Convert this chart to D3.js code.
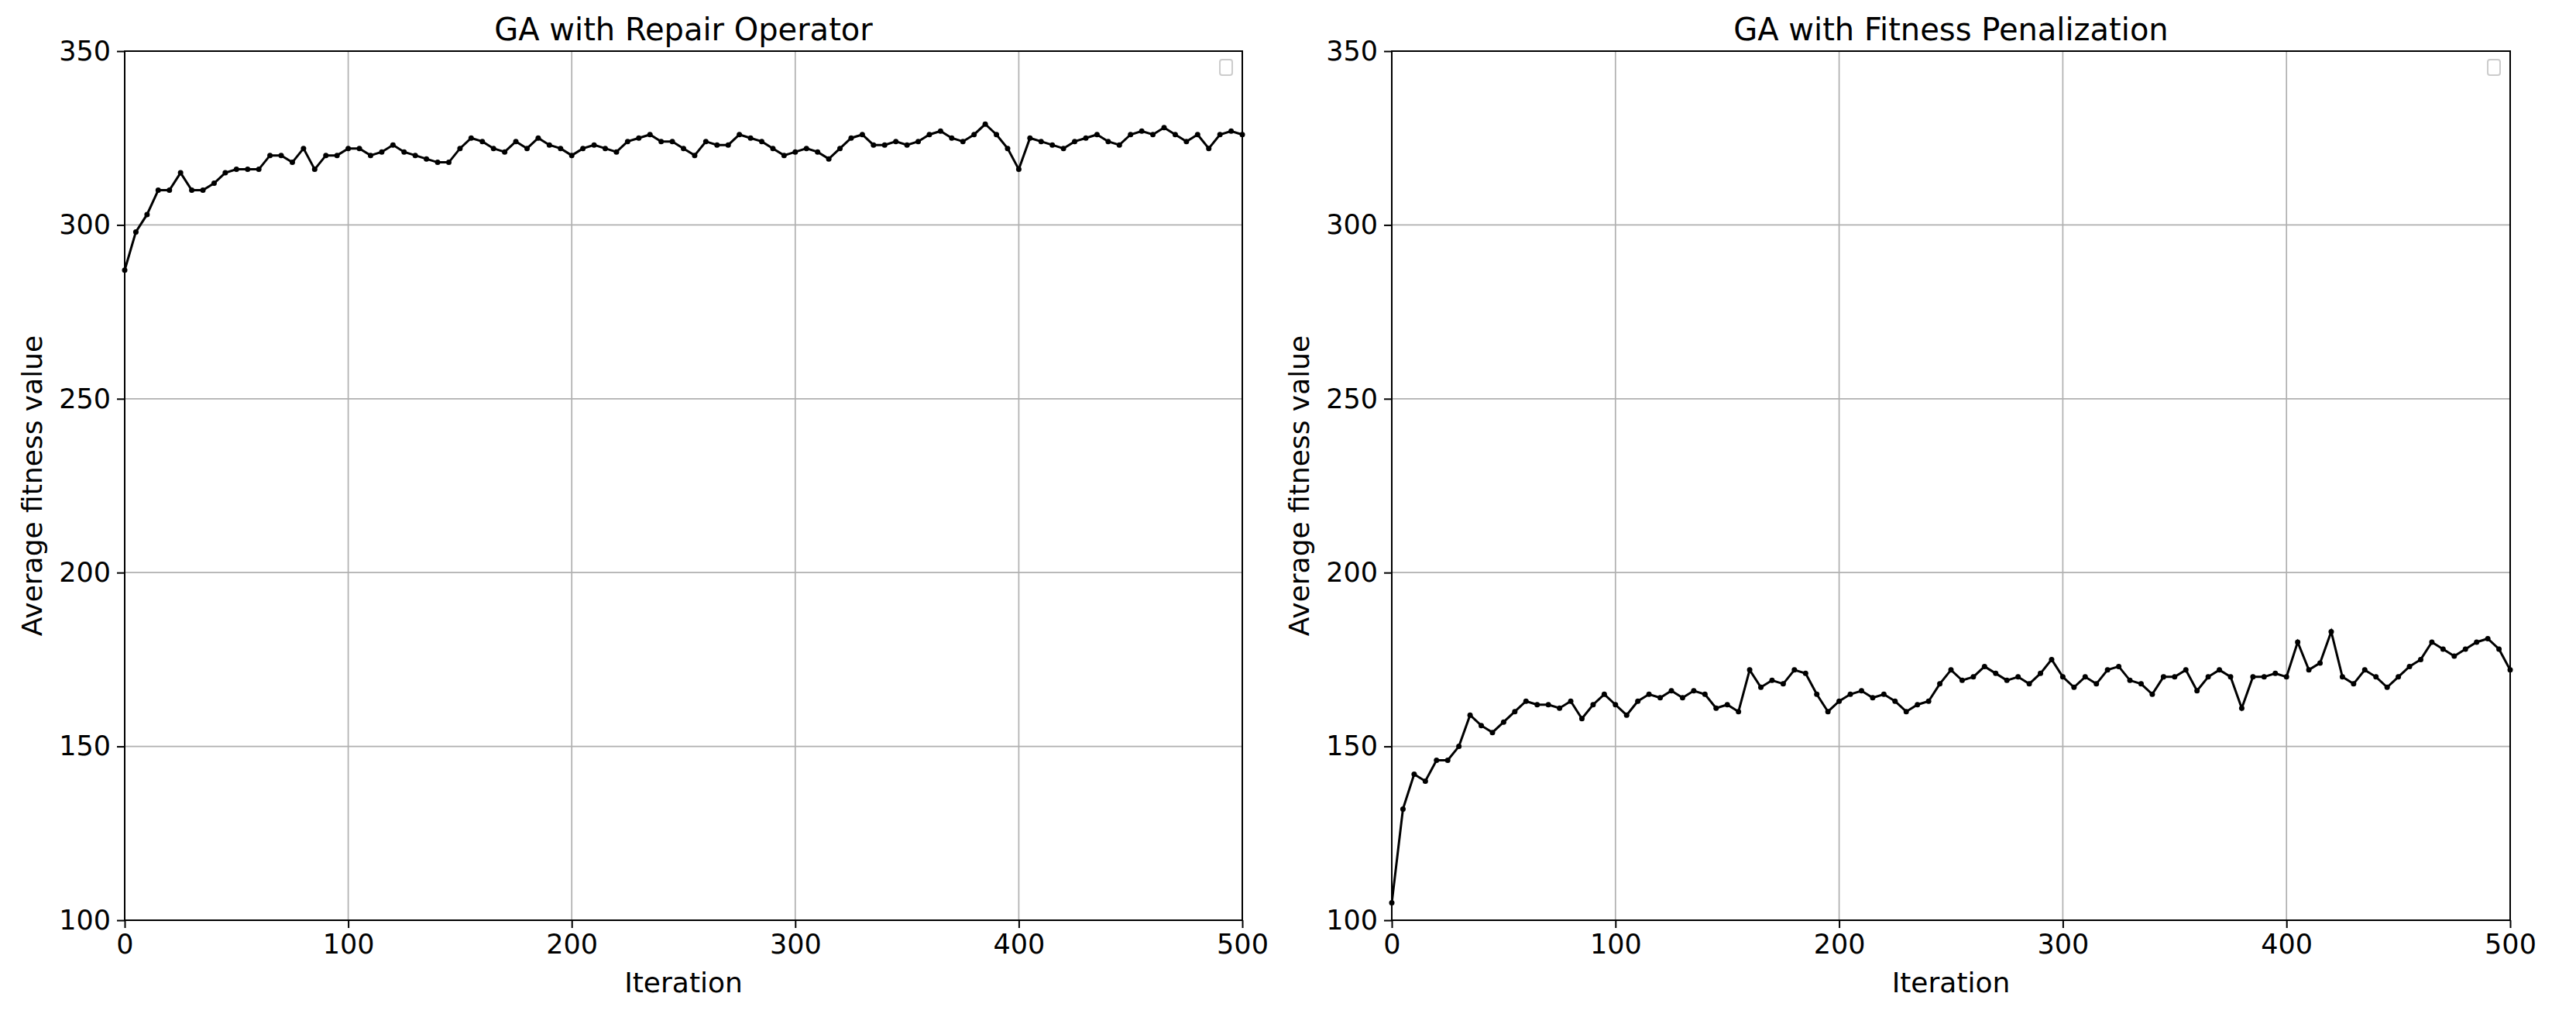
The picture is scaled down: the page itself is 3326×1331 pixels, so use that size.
<!DOCTYPE html>
<html>
<head>
<meta charset="utf-8">
<script src="https://cdn.jsdelivr.net/npm/d3@7"></script>
<style>
  body { margin: 0; background: #fff; }
  text { font-family: "DejaVu Sans", sans-serif; }
</style>
</head>
<body>
<svg id="chart" width="3326" height="1331"></svg>
<script>
// values read every 5 iterations
var iterStep = 5;
var repairValues = [287,298,303,310,310,315,310,310,312,315,316,316,316,320,320,318,322,316,320,320,
  322,322,320,321,323,321,320,319,318,318,322,325,324,322,321,324,322,325,323,322,
  320,322,323,322,321,324,325,326,324,324,322,320,324,323,323,326,325,324,322,320,
  321,322,321,319,322,325,326,323,323,324,323,324,326,327,325,324,326,329,326,322,
  316,325,324,323,322,324,325,326,324,323,326,327,326,328,326,324,326,322,326,327,326];
var penaltyValues = [105,132,142,140,146,146,150,159,156,154,157,160,163,162,162,161,163,158,162,165,
  162,159,163,165,164,166,164,166,165,161,162,160,172,167,169,168,172,171,165,160,
  163,165,166,164,165,163,160,162,163,168,172,169,170,173,171,169,170,168,171,175,
  170,167,170,168,172,173,169,168,165,170,170,172,166,170,172,170,161,170,170,171,
  170,180,172,174,183,170,168,172,170,167,170,173,175,180,178,176,178,180,181,178,172];
var xTicks = [0,100,200,300,400,500];
var yTicks = [100,150,200,250,300,350];
var panels = [
  {title: "GA with Repair Operator", values: repairValues, left: 161, right: 1604},
  {title: "GA with Fitness Penalization", values: penaltyValues, left: 1797, right: 3241}
];

var svg = d3.select("#chart");
var plotTop = 66, plotBottom = 1188;

panels.forEach(function(p) {
  var x = d3.scaleLinear().domain([0, 500]).range([p.left, p.right]);
  var y = d3.scaleLinear().domain([100, 350]).range([plotBottom, plotTop]);
  var g = svg.append("g");

  // grid
  g.selectAll(".gx").data(xTicks).enter().append("line")
    .attr("x1", d => x(d)).attr("x2", d => x(d)).attr("y1", plotTop).attr("y2", plotBottom)
    .attr("stroke", "#b0b0b0").attr("stroke-width", 1.7);
  g.selectAll(".gy").data(yTicks).enter().append("line")
    .attr("y1", d => y(d)).attr("y2", d => y(d)).attr("x1", p.left).attr("x2", p.right)
    .attr("stroke", "#b0b0b0").attr("stroke-width", 1.7);

  var data = p.values.map((v, i) => [i * iterStep, v]);
  var line = d3.line().x(d => x(d[0])).y(d => y(d[1]));
  g.append("path").datum(data).attr("d", line)
    .attr("fill", "none").attr("stroke", "#000").attr("stroke-width", 3);
  g.selectAll(".pt").data(data).enter().append("circle")
    .attr("cx", d => x(d[0])).attr("cy", d => y(d[1])).attr("r", 3.5).attr("fill", "#000");

  // frame
  g.append("rect").attr("x", p.left).attr("y", plotTop)
    .attr("width", p.right - p.left).attr("height", plotBottom - plotTop)
    .attr("fill", "none").attr("stroke", "#000").attr("stroke-width", 2);

  var xa = g.append("g").attr("transform", "translate(0," + plotBottom + ")")
    .call(d3.axisBottom(x).tickValues(xTicks).tickSize(10).tickPadding(8));
  var ya = g.append("g").attr("transform", "translate(" + p.left + ",0)")
    .call(d3.axisLeft(y).tickValues(yTicks).tickSize(10).tickPadding(8));
  [xa, ya].forEach(function(a) {
    a.select(".domain").remove();
    a.selectAll("line").attr("stroke", "#000").attr("stroke-width", 2);
    a.selectAll("text").attr("font-size", 35).attr("fill", "#000")
      .attr("font-family", "DejaVu Sans, sans-serif");
  });

  // empty legend box
  g.append("rect").attr("x", p.right - 29).attr("y", 77).attr("width", 16).attr("height", 20)
    .attr("rx", 3).attr("fill", "#fff").attr("stroke", "#ccc").attr("stroke-width", 2);

  g.append("text").attr("x", (p.left + p.right) / 2).attr("y", 52)
    .attr("text-anchor", "middle").attr("font-size", 40).text(p.title);
  g.append("text").attr("x", (p.left + p.right) / 2).attr("y", 1281)
    .attr("text-anchor", "middle").attr("font-size", 36).text("Iteration");
  g.append("text").attr("transform", "translate(" + (p.left - 107) + "," + ((plotTop + plotBottom) / 2) + ") rotate(-90)")
    .attr("text-anchor", "middle").attr("font-size", 36).text("Average fitness value");
});
</script>
</body>
</html>
